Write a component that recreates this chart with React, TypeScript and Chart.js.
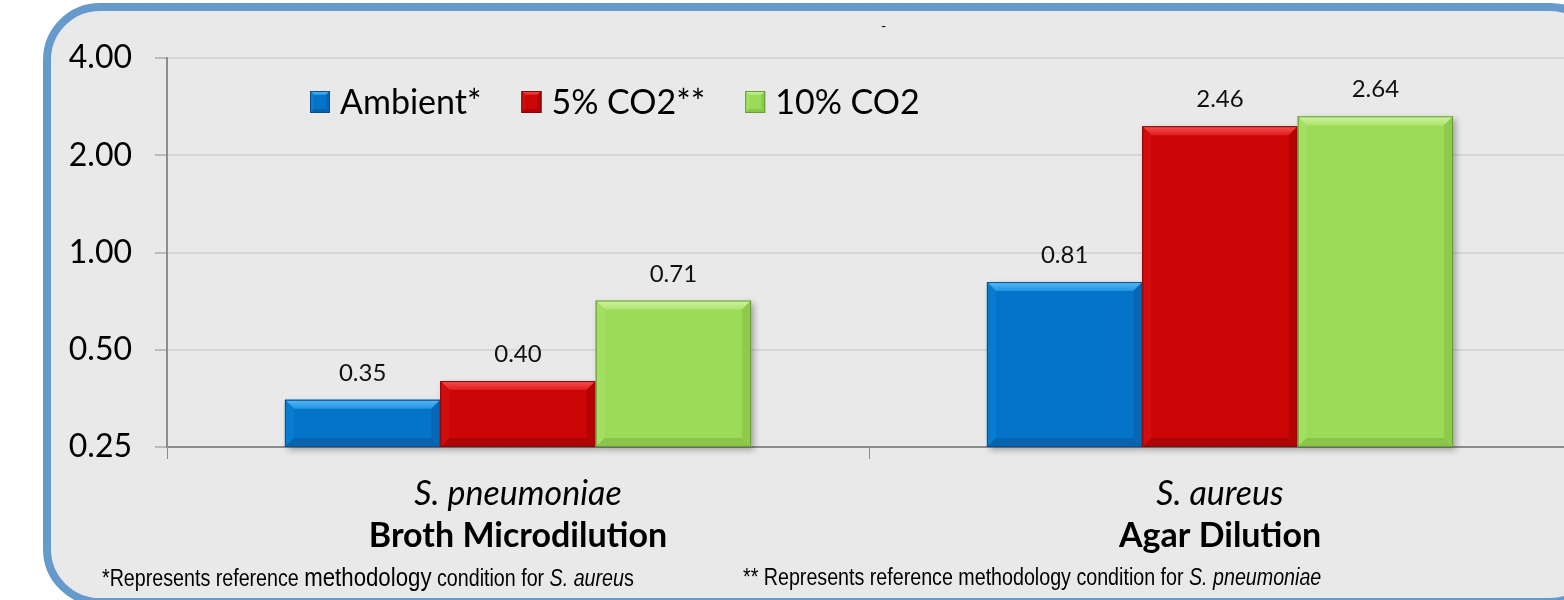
import { useEffect, useRef } from "react";
import { Chart, registerables } from "chart.js";

Chart.register(...registerables);

// Organisms and test methods (two-line category labels)
const categories = ["S. pneumoniae", "S. aureus"];
const methods = ["Broth Microdilution", "Agar Dilution"];

// Incubation atmospheres
const seriesNames = ["Ambient*", "5% CO2**", "10% CO2"];
const ambient = [0.35, 0.81];
const co2Five = [0.4, 2.46];
const co2Ten = [0.71, 2.64];
const seriesValues = [ambient, co2Five, co2Ten];

// Log2 value axis
const yTicks = [0.25, 0.5, 1, 2, 4];

const FONT = "Lato, 'Open Sans', sans-serif";

type Shade = {
  fill: string;
  hi: string;
  hi2: string;
  side: string;
  shade: string;
  shade2: string;
  edge: string;
};

const palette: Shade[] = [
  { fill: "#0474c9", hi: "#55b9f8", hi2: "#2294e3", side: "#0a7ccf", shade: "#0667b4", shade2: "#0663ad", edge: "#0b4f8a" },
  { fill: "#cc0606", hi: "#f65050", hi2: "#e21c1c", side: "#d20d0d", shade: "#b40505", shade2: "#ad0505", edge: "#7e0a0a" },
  { fill: "#9cdb58", hi: "#cdf59c", hi2: "#afe372", side: "#a3df63", shade: "#8ecb4d", shade2: "#89c549", edge: "#6a9a3a" },
];

function poly(ctx: CanvasRenderingContext2D, pts: number[][], style: string | CanvasGradient) {
  ctx.beginPath();
  ctx.moveTo(pts[0][0], pts[0][1]);
  for (let i = 1; i < pts.length; i++) ctx.lineTo(pts[i][0], pts[i][1]);
  ctx.closePath();
  ctx.fillStyle = style;
  ctx.fill();
}

function bevelRect(ctx: CanvasRenderingContext2D, L: number, T: number, R: number, B: number, c: Shade, b: number) {
  const bb = Math.max(0, Math.min(b, (B - T) / 2, (R - L) / 2));
  ctx.fillStyle = c.fill;
  ctx.fillRect(L, T, R - L, B - T);
  const g = ctx.createLinearGradient(0, T, 0, T + bb);
  g.addColorStop(0, c.hi);
  g.addColorStop(1, c.hi2);
  poly(ctx, [[L, T], [R, T], [R - bb, T + bb], [L + bb, T + bb]], g);
  poly(ctx, [[L, T], [L + bb, T + bb], [L + bb, B - bb], [L, B]], c.side);
  poly(ctx, [[R, T], [R, B], [R - bb, B - bb], [R - bb, T + bb]], c.shade);
  poly(ctx, [[L, B], [L + bb, B - bb], [R - bb, B - bb], [R, B]], c.shade2);
  ctx.strokeStyle = c.edge;
  ctx.lineWidth = 1;
  ctx.strokeRect(L + 0.5, T + 0.5, R - L - 1, B - T - 1);
}

type BarBox = { l: number; r: number; t: number; b: number; ds: number; idx: number };

function eachBar(chart: any, fn: (box: BarBox) => void) {
  chart.data.datasets.forEach((_: any, ds: number) => {
    const meta = chart.getDatasetMeta(ds);
    meta.data.forEach((el: any, idx: number) => {
      const p = el.getProps(["x", "y", "base", "width"], true);
      fn({ l: p.x - p.width / 2, r: p.x + p.width / 2, t: Math.min(p.y, p.base), b: Math.max(p.y, p.base), ds, idx });
    });
  });
}

// Soft drop shadow under bars, then bevelled faces on top
const bevelPlugin = {
  id: "bevelBars",
  beforeDatasetsDraw(chart: any) {
    const ctx: CanvasRenderingContext2D = chart.ctx;
    ctx.save();
    ctx.filter = "blur(3px)";
    ctx.fillStyle = "rgba(0,0,0,0.30)";
    eachBar(chart, (r) => ctx.fillRect(r.l + 3, r.t + 3, r.r - r.l, r.b - r.t));
    ctx.restore();
  },
  afterDatasetsDraw(chart: any) {
    const ctx: CanvasRenderingContext2D = chart.ctx;
    ctx.save();
    eachBar(chart, (r) => bevelRect(ctx, r.l, r.t, r.r, r.b, palette[r.ds], 9));
    // value labels
    ctx.font = `24px ${FONT}`;
    ctx.fillStyle = "#111";
    ctx.textAlign = "center";
    ctx.textBaseline = "alphabetic";
    eachBar(chart, (r) => {
      const v = seriesValues[r.ds][r.idx];
      ctx.fillText(v.toFixed(2), (r.l + r.r) / 2, r.t - 19);
    });
    ctx.restore();
  },
};

const legendPlugin = {
  id: "legendRow",
  afterDraw(chart: any) {
    const ctx: CanvasRenderingContext2D = chart.ctx;
    const area = chart.chartArea;
    ctx.save();
    ctx.font = `34px ${FONT}`;
    ctx.textBaseline = "alphabetic";
    ctx.textAlign = "left";
    let x = area.left + 143;
    const cy = 102;
    seriesNames.forEach((name, i) => {
      bevelRect(ctx, x, cy - 11, x + 20, cy + 11, palette[i], 4);
      ctx.fillStyle = "#000";
      ctx.fillText(name, x + 30, cy + 12);
      x += 30 + ctx.measureText(name).width + 40;
    });
    ctx.restore();
  },
};

const categoryPlugin = {
  id: "categoryLabels",
  afterDraw(chart: any) {
    const ctx: CanvasRenderingContext2D = chart.ctx;
    const xs = chart.scales.x;
    ctx.save();
    ctx.fillStyle = "#000";
    ctx.textAlign = "center";
    ctx.textBaseline = "alphabetic";
    categories.forEach((name, i) => {
      const x = xs.getPixelForValue(i);
      ctx.font = `italic 34px ${FONT}`;
      ctx.fillText(name, x, 505);
      ctx.font = `bold 34px ${FONT}`;
      ctx.fillText(methods[i], x, 547);
    });
    ctx.restore();
  },
};

export default function App() {
  const ref = useRef<HTMLCanvasElement>(null);

  useEffect(() => {
    const canvas = ref.current;
    if (!canvas) return;
    const chart = new Chart(canvas, {
      type: "bar",
      data: {
        labels: categories,
        datasets: seriesValues.map((vals, i) => ({
          label: seriesNames[i],
          data: vals,
          backgroundColor: palette[i].fill,
          borderWidth: 0,
          categoryPercentage: 0.664,
          barPercentage: 1,
        })),
      },
      options: {
        responsive: false,
        animation: false,
        devicePixelRatio: 1,
        layout: { padding: { top: 58, right: 36, bottom: 0, left: 0 } },
        plugins: {
          legend: { display: false },
          title: { display: false },
          tooltip: { enabled: false },
        },
        scales: {
          x: {
            type: "category",
            offset: true,
            grid: {
              display: true,
              offset: true,
              drawOnChartArea: false,
              drawTicks: true,
              tickLength: 12,
              color: "#8c8c8c",
              lineWidth: 1,
            },
            border: { display: true, color: "#8c8c8c", width: 2 },
            ticks: { color: "rgba(0,0,0,0)", font: { size: 10 } },
            afterFit: (s: any) => {
              s.height = 153;
            },
          },
          y: {
            type: "logarithmic",
            min: 0.25,
            max: 4,
            afterBuildTicks: (s: any) => {
              s.ticks = yTicks.map((v) => ({ value: v }));
            },
            afterFit: (s: any) => {
              s.width = 167;
            },
            grid: {
              color: "#d6d6d6",
              lineWidth: 2,
              tickColor: "#8c8c8c",
              tickLength: 12,
              tickWidth: 1,
            },
            border: { display: true, color: "#8c8c8c", width: 2 },
            ticks: {
              padding: 23,
              color: "#000",
              autoSkip: false,
              font: { family: FONT, size: 32 },
              callback: (v: any) => Number(v).toFixed(2),
            },
          },
        },
      },
      plugins: [bevelPlugin, legendPlugin, categoryPlugin],
    } as any);
    return () => chart.destroy();
  }, []);

  const noteStyle = {
    position: "absolute" as const,
    top: 564,
    fontFamily: "'Liberation Sans', Arial, sans-serif",
    fontSize: 23,
    color: "#000",
    whiteSpace: "nowrap" as const,
    lineHeight: "26px",
    transform: "scaleX(0.855)",
    transformOrigin: "left center",
  };

  return (
    <div style={{ position: "fixed", left: 0, top: 0, width: 1564, height: 600, overflow: "hidden", background: "#fff" }}>
      <div
        style={{
          position: "absolute",
          left: 43,
          top: 3,
          width: 1564,
          height: 603,
          boxSizing: "border-box",
          border: "8px solid #6699cc",
          borderRadius: 57,
          background: "#e9e9e9",
        }}
      />
      <span style={{ position: "absolute", left: 881, top: 17, fontFamily: FONT, fontSize: 14, color: "#000" }}>-</span>
      <canvas ref={ref} width={1607} height={600} style={{ position: "absolute", left: 0, top: 0, width: 1607, height: 600 }} />
      <div style={{ ...noteStyle, left: 102 }}>
        *Represents reference <span style={{ fontSize: 26 }}>methodology</span> condition for <i>S. aureu</i>s
      </div>
      <div style={{ ...noteStyle, left: 743 }}>
        ** Represents reference methodology condition for <i>S. pneumoniae</i>
      </div>
    </div>
  );
}
